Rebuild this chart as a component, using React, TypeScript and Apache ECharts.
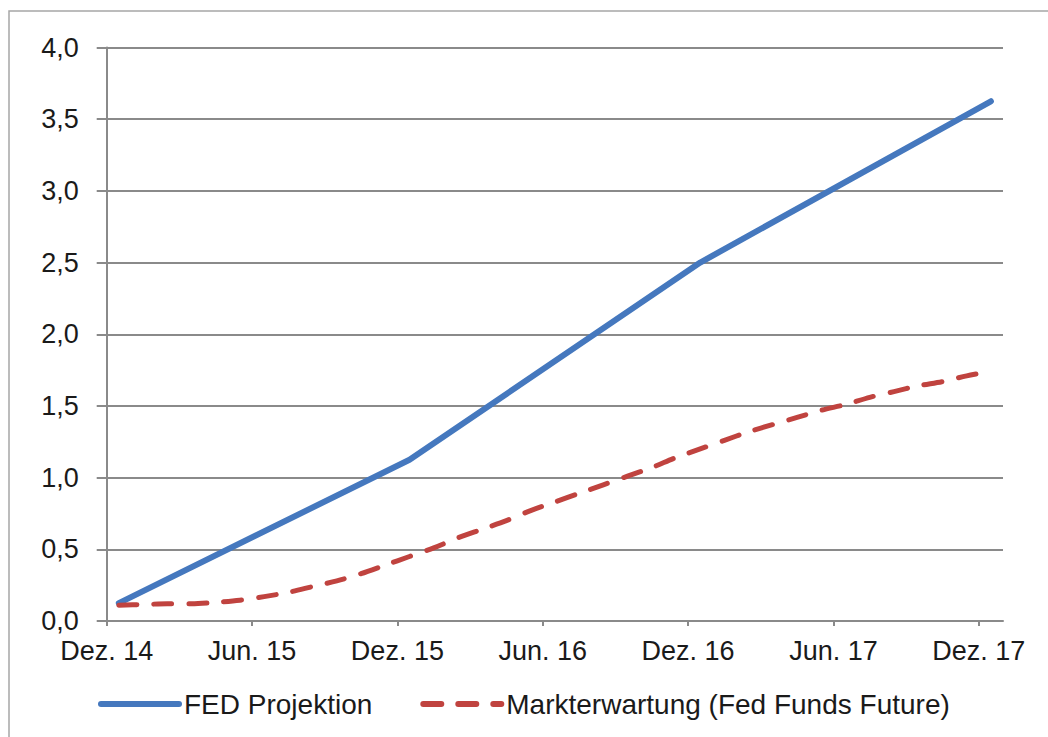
import React, { useEffect, useRef } from "react";
import * as echarts from "echarts";

// x positions are months counted from the start of Dez. 14
const xTickLabels = ["Dez. 14", "Jun. 15", "Dez. 15", "Jun. 16", "Dez. 16", "Jun. 17", "Dez. 17"];
const xTickValues = [0, 6, 12, 18, 24, 30, 36];

const fedMonths = [0.5, 12.5, 24.5, 36.5];
const fedValues = [0.125, 1.125, 2.5, 3.625];

const marketMonths = [
  0.5, 1.5, 2.5, 3.5, 4.5, 5.5, 6.5, 7.5, 8.5, 9.5, 10.5, 11.5, 12.5, 13.5, 14.5, 15.5, 16.5, 17.5, 18.5,
  19.5, 20.5, 21.5, 22.5, 23.5, 24.5, 25.5, 26.5, 27.5, 28.5, 29.5, 30.5, 31.5, 32.5, 33.5, 34.5, 35.5, 36.5,
];
const marketValues = [
  0.11, 0.115, 0.12, 0.12, 0.13, 0.145, 0.17, 0.2, 0.24, 0.28, 0.33, 0.39, 0.45, 0.51, 0.58, 0.64, 0.7, 0.77,
  0.83, 0.89, 0.95, 1.01, 1.07, 1.14, 1.2, 1.26, 1.32, 1.37, 1.42, 1.47, 1.51, 1.56, 1.6, 1.64, 1.67, 1.71, 1.74,
];

const seriesNames = ["FED Projektion", "Markterwartung (Fed Funds Future)"];

const FONT = "'Liberation Sans', Arial, Helvetica, sans-serif";
const TEXT = "#1a1a1a";
const GRID = "#8a8a8a";
const BLUE = "#4578BE";
const RED = "#C0433F";

export default function App() {
  const ref = useRef<HTMLDivElement>(null);

  useEffect(() => {
    if (!ref.current) return;
    const chart = echarts.init(ref.current, undefined, { renderer: "svg" });
    chart.setOption({
      animation: false,
      backgroundColor: "#ffffff",
      textStyle: { fontFamily: FONT },
      graphic: [
        {
          type: "rect",
          shape: { x: 9, y: 11, width: 1100, height: 800 },
          style: { fill: "none", stroke: "#a6a6a6", lineWidth: 1.5 },
          silent: true,
        },
      ],
      grid: { left: 106.7, top: 47.5, right: 45, bottom: 116, containLabel: false },
      xAxis: {
        type: "value",
        min: 0,
        max: 37,
        interval: 6,
        axisLine: { show: true, lineStyle: { color: GRID, width: 2 } },
        axisTick: {
          show: true,
          length: 5,
          customValues: xTickValues,
          lineStyle: { color: GRID, width: 2 },
        },
        splitLine: { show: false },
        axisLabel: {
          customValues: xTickValues,
          formatter: (v: number) => {
            const i = xTickValues.indexOf(v);
            return i >= 0 ? xTickLabels[i] : "";
          },
          color: TEXT,
          fontSize: 27,
          fontFamily: FONT,
          margin: 16,
        },
      },
      yAxis: {
        type: "value",
        min: 0,
        max: 4,
        interval: 0.5,
        axisLine: { show: true, lineStyle: { color: GRID, width: 2 } },
        axisTick: { show: true, length: 10, lineStyle: { color: GRID, width: 2 } },
        splitLine: { show: true, lineStyle: { color: GRID, width: 2 } },
        axisLabel: {
          formatter: (v: number) => v.toFixed(1).replace(".", ","),
          color: TEXT,
          fontSize: 27,
          fontFamily: FONT,
          margin: 28,
        },
      },
      legend: {
        data: seriesNames,
        left: 98,
        top: 690,
        padding: 0,
        itemWidth: 78,
        itemHeight: 14,
        itemGap: 48,
        itemStyle: { opacity: 0 },
        lineStyle: { width: 6, cap: "round" },
        textStyle: { color: TEXT, fontSize: 28, fontFamily: FONT, padding: [0, 0, 0, 0] },
      },
      series: [
        {
          name: seriesNames[0],
          type: "line",
          data: fedMonths.map((m, i) => [m, fedValues[i]]),
          symbol: "none",
          lineStyle: { color: BLUE, width: 6, cap: "round", join: "round" },
          itemStyle: { color: BLUE },
        },
        {
          name: seriesNames[1],
          type: "line",
          data: marketMonths.map((m, i) => [m, marketValues[i]]),
          symbol: "none",
          smooth: 0.3,
          lineStyle: { color: RED, width: 5, type: [18, 17], cap: "round", join: "round" },
          itemStyle: { color: RED },
        },
      ],
    });
    return () => chart.dispose();
  }, []);

  return (
    <div
      ref={ref}
      style={{ position: "fixed", left: 0, top: 0, width: 1048, height: 737 }}
    />
  );
}
